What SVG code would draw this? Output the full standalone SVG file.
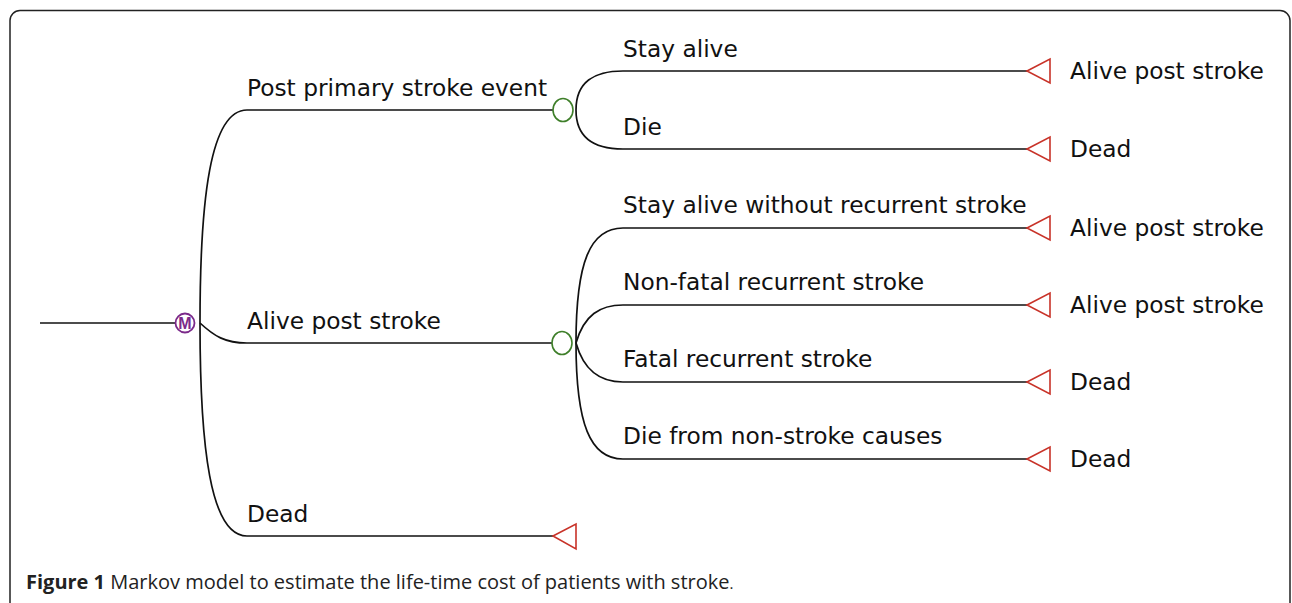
<svg xmlns="http://www.w3.org/2000/svg" width="1292" height="603" viewBox="0 0 1292 603">
<style>
.lbl{font-family:"DejaVu Sans","Liberation Sans",sans-serif;font-size:23.3px;fill:#111}
.ln{fill:none;stroke:#111;stroke-width:1.7}
.chance{fill:#fff;stroke:#3f7f2a;stroke-width:1.6}
.term{fill:#fff;stroke:#c83228;stroke-width:1.6}
.markov{fill:#fff;stroke:#7b2a8a;stroke-width:1.8}
.cap{font-family:"Open Sans","Liberation Sans",sans-serif;font-size:20px;fill:#222}
</style>
<rect x="0" y="0" width="1292" height="603" fill="#fff"/>
<rect x="10" y="10.5" width="1280" height="640" rx="10" ry="10" fill="none" stroke="#222" stroke-width="1.5"/>

<g id="connectors">
  <line class="ln" x1="40" y1="323" x2="176" y2="323"/>
  <path class="ln" d="M200,323 C200,200 210,110 247,110 L553,110"/>
  <path class="ln" d="M200,323 C214,336 225,343 247,343 L552,343"/>
  <path class="ln" d="M200,323 C200,446 210,536 247,536 L553,536"/>
  <path class="ln" d="M576,110 C576,82 594,71 623,71 L1027,71"/>
  <path class="ln" d="M576,110 C576,138 594,149 623,149 L1027,149"/>
  <path class="ln" d="M576,343 C576,262 590,228 623,228 L1027,228"/>
  <path class="ln" d="M576,343 C584,315 600,305 623,305 L1027,305"/>
  <path class="ln" d="M576,343 C584,371 600,382 623,382 L1027,382"/>
  <path class="ln" d="M576,343 C576,424 590,459 623,459 L1027,459"/>
</g>

<g id="markov-node">
  <circle class="markov" cx="185" cy="323" r="9.5"/>
  <text x="185" y="329" text-anchor="middle" font-family="Liberation Sans, sans-serif" font-size="16" font-weight="bold" fill="#7b2a8a">M</text>
</g>

<g id="post-primary">
  <text class="lbl" x="247" y="96">Post primary stroke event</text>
</g>
<g id="chance-1">
  <ellipse class="chance" cx="563" cy="110" rx="10" ry="11.5"/>
</g>
<g id="alive-mid">
  <text class="lbl" x="247" y="329">Alive post stroke</text>
</g>
<g id="chance-2">
  <ellipse class="chance" cx="562" cy="343" rx="10" ry="11.5"/>
</g>
<g id="dead-bottom">
  <text class="lbl" x="247" y="522">Dead</text>
  <polygon class="term" points="553,536 576,524 576,549"/>
</g>

<g id="stay-alive">
  <text class="lbl" x="623" y="57">Stay alive</text>
  <polygon class="term" points="1027,71 1050,59 1050,83"/>
  <text class="lbl" x="1070" y="79">Alive post stroke</text>
</g>
<g id="die">
  <text class="lbl" x="623" y="135">Die</text>
  <polygon class="term" points="1027,149 1050,137 1050,161"/>
  <text class="lbl" x="1070" y="157">Dead</text>
</g>
<g id="stay-alive-no-recur">
  <text class="lbl" x="623" y="213">Stay alive without recurrent stroke</text>
  <polygon class="term" points="1027,228 1050,216 1050,240"/>
  <text class="lbl" x="1070" y="236">Alive post stroke</text>
</g>
<g id="nonfatal">
  <text class="lbl" x="623" y="290">Non-fatal recurrent stroke</text>
  <polygon class="term" points="1027,305 1050,293 1050,317"/>
  <text class="lbl" x="1070" y="313">Alive post stroke</text>
</g>
<g id="fatal">
  <text class="lbl" x="623" y="367">Fatal recurrent stroke</text>
  <polygon class="term" points="1027,382 1050,370 1050,394"/>
  <text class="lbl" x="1070" y="390">Dead</text>
</g>
<g id="die-nonstroke">
  <text class="lbl" x="623" y="444">Die from non-stroke causes</text>
  <polygon class="term" points="1027,459 1050,447 1050,471"/>
  <text class="lbl" x="1070" y="467">Dead</text>
</g>

<g id="caption">
  <text class="cap" x="26" y="589"><tspan font-weight="bold">Figure 1</tspan> Markov model to estimate the life-time cost of patients with stroke<tspan font-size="15">.</tspan></text>
</g>
</svg>
